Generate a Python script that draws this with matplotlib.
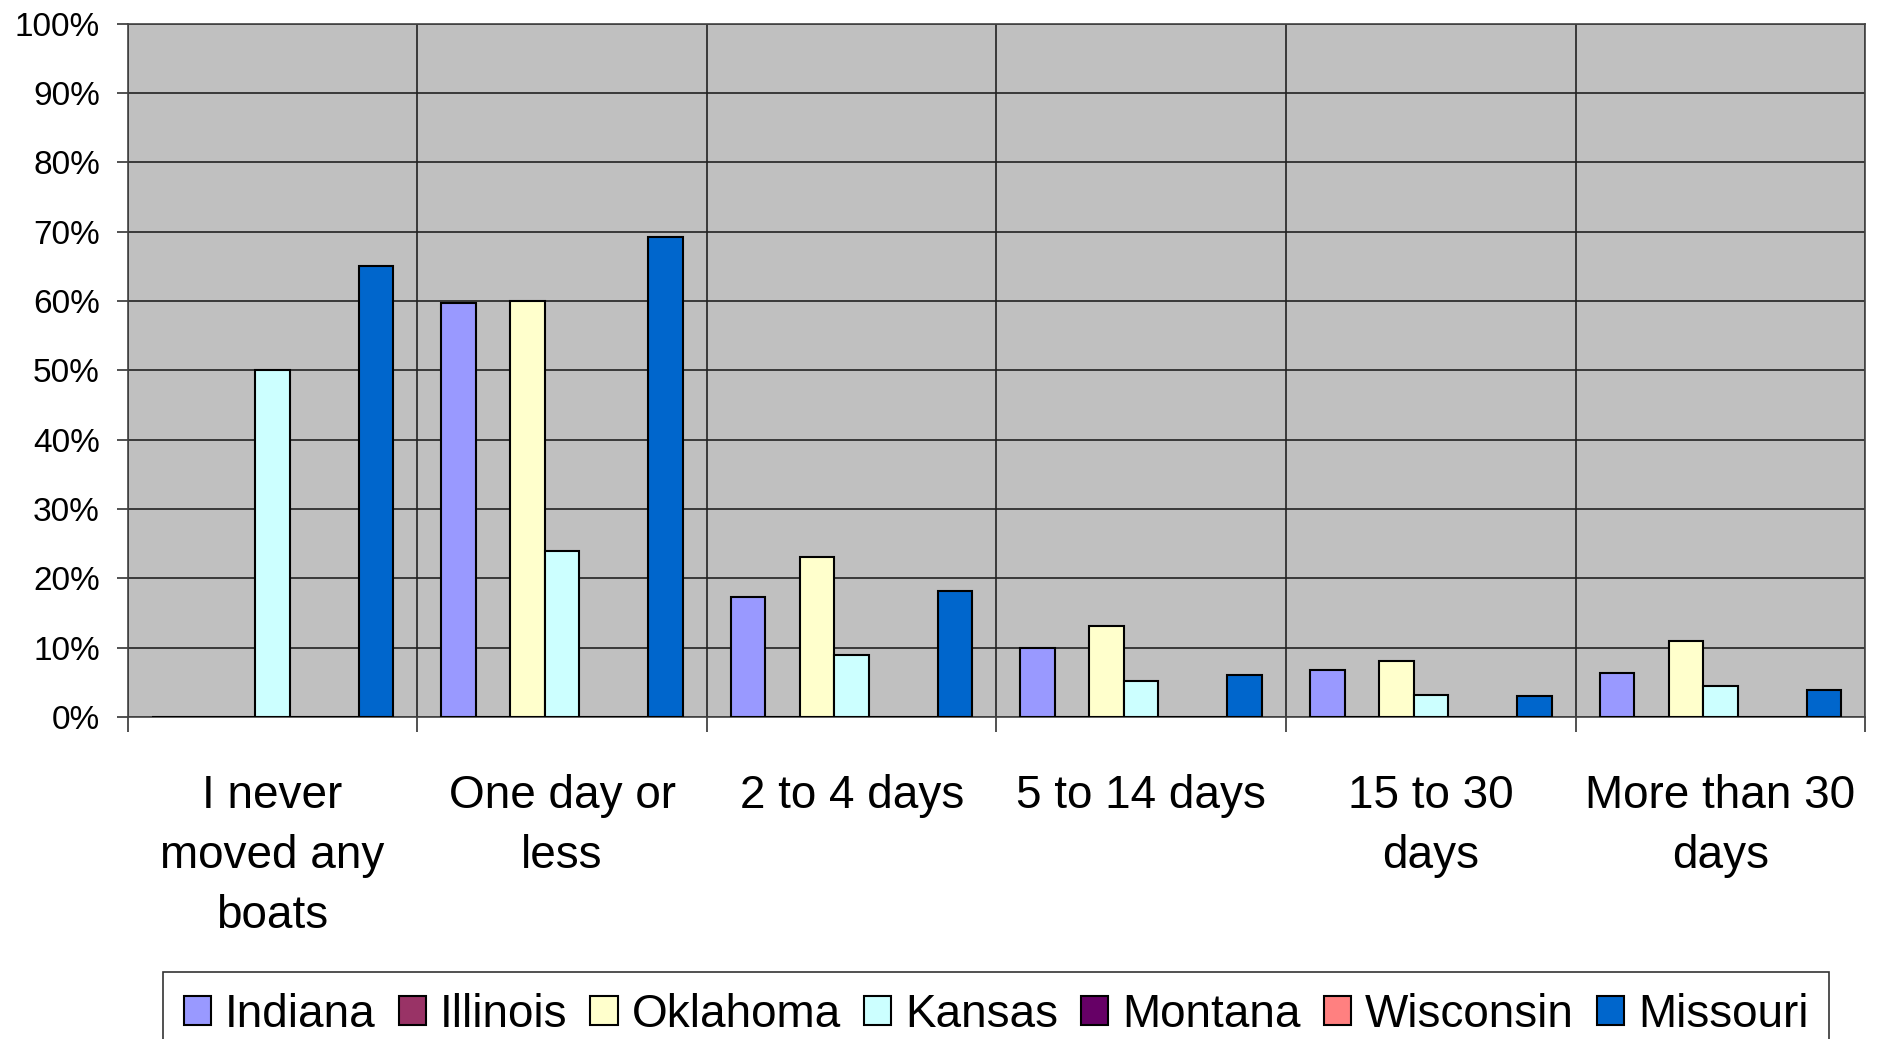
import numpy as np
import matplotlib
matplotlib.use("Agg")
import matplotlib.pyplot as plt
from matplotlib.ticker import FixedLocator, PercentFormatter

plt.rcParams['font.family'] = ['Liberation Sans', 'DejaVu Sans']

categories = ["I never\nmoved any\nboats", "One day or\nless", "2 to 4 days",
              "5 to 14 days", "15 to 30\ndays", "More than 30\ndays"]
series_names = ["Indiana", "Illinois", "Oklahoma", "Kansas", "Montana", "Wisconsin", "Missouri"]
indiana = [0, 59.7, 17.3, 10.0, 6.7, 6.4]
illinois = [0, 0, 0, 0, 0, 0]
oklahoma = [0, 60.0, 23.1, 13.1, 8.1, 10.9]
kansas = [50.0, 24.0, 8.9, 5.2, 3.1, 4.4]
montana = [0, 0, 0, 0, 0, 0]
wisconsin = [0, 0, 0, 0, 0, 0]
missouri = [65.0, 69.2, 18.1, 6.1, 3.0, 3.9]
values = [indiana, illinois, oklahoma, kansas, montana, wisconsin, missouri]
colors = ["#9999FF", "#993366", "#FFFFCC", "#CCFFFF", "#660066", "#FF8080", "#0066CC"]

fig = plt.figure(figsize=(18.79, 10.39), dpi=100)
ax = fig.add_axes([0.068, 0.310, 0.9246, 0.667])
ax.set_facecolor("#C0C0C0")

x = np.arange(len(categories))
w = 0.834 / len(series_names)
for j, (name, vals, c) in enumerate(zip(series_names, values, colors)):
    ax.bar(x + (j - 3) * w, vals, w, color=c, edgecolor="black", linewidth=1.5,
           label=name, zorder=3)

ax.set_xlim(-0.5, len(categories) - 0.5)
ax.set_ylim(0, 100)
ax.yaxis.set_major_locator(FixedLocator(np.arange(0, 101, 10)))
ax.yaxis.set_major_formatter(PercentFormatter(decimals=0))
ax.tick_params(axis='y', labelsize=24, length=8, width=1.2, pad=12, color="#333333")
ax.set_xticks(x)
ax.set_xticklabels(categories, fontsize=33, linespacing=1.47)
ax.tick_params(axis='x', which='major', length=0, pad=41)
ax.xaxis.set_minor_locator(FixedLocator(np.arange(-0.5, len(categories), 1.0)))
ax.tick_params(axis='x', which='minor', length=11, width=1.2, color="#333333")
ax.grid(axis='y', which='major', color="#222222", linewidth=1.2, zorder=1)
ax.grid(axis='x', which='minor', color="#222222", linewidth=1.2, zorder=1)
ax.set_axisbelow(True)
for s in ax.spines.values():
    s.set_color("#444444")
    s.set_linewidth(1.2)

leg = fig.legend(loc="upper left", bbox_to_anchor=(0.0868, 1 - 972 / 1039), ncol=7,
                 fontsize=33, frameon=True, fancybox=False, edgecolor="black",
                 handlelength=0.6, handleheight=0.6, handletextpad=0.3,
                 columnspacing=0.5, borderpad=0.45, borderaxespad=0)
leg.get_frame().set_linewidth(1.2)

fig.savefig("out.png", dpi=100)
